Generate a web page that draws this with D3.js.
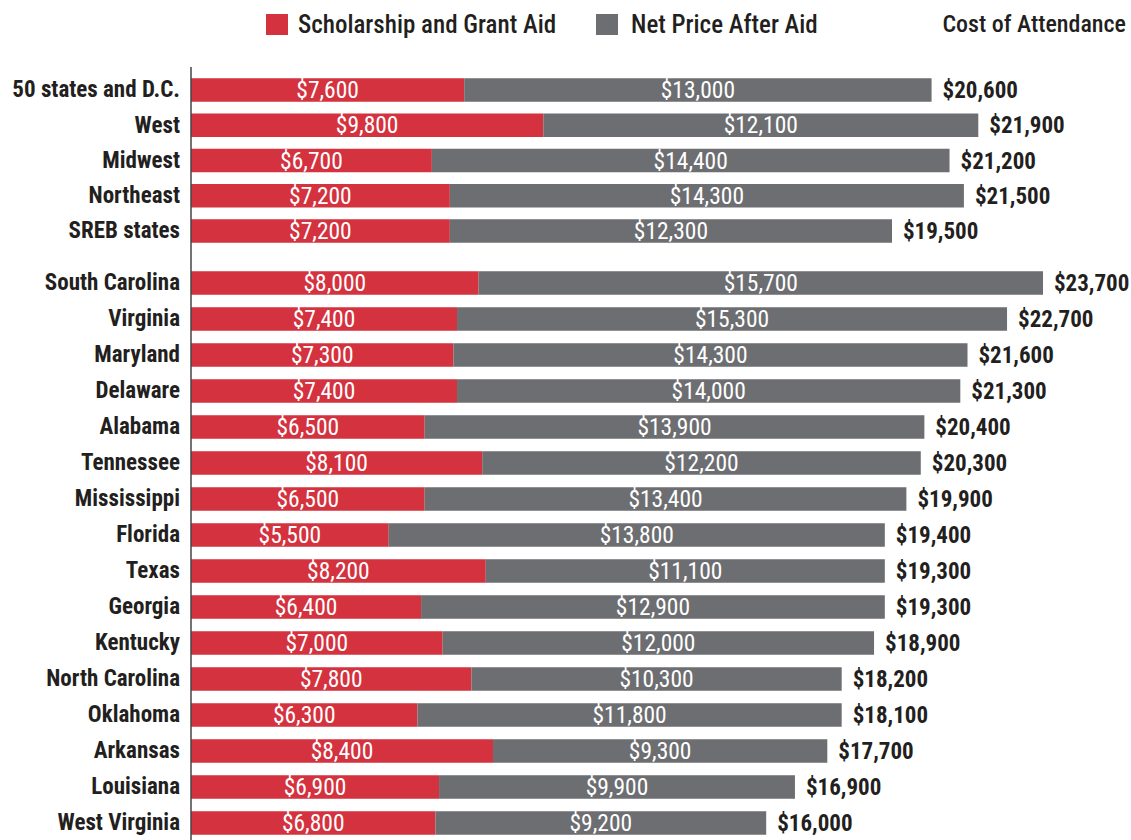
<!DOCTYPE html>
<html>
<head>
<meta charset="utf-8">
<script src="https://cdn.jsdelivr.net/npm/d3@7"></script>
<style>
  body { margin: 0; background: #fff; }
  svg text { font-family: "Liberation Sans Narrow", "Roboto Condensed", "DejaVu Sans Condensed", "Liberation Sans", sans-serif; }
</style>
</head>
<body>
<svg id="chart" width="1131" height="840"></svg>
<script>
// regions block on top, states below
var regions = ["50 states and D.C.", "West", "Midwest", "Northeast", "SREB states"];
var regionAid = [7600, 9800, 6700, 7200, 7200];
var regionNet = [13000, 12100, 14400, 14300, 12300];
var regionCost = [20600, 21900, 21200, 21500, 19500];

var states = ["South Carolina", "Virginia", "Maryland", "Delaware", "Alabama", "Tennessee",
  "Mississippi", "Florida", "Texas", "Georgia", "Kentucky", "North Carolina", "Oklahoma",
  "Arkansas", "Louisiana", "West Virginia"];
var stateAid = [8000, 7400, 7300, 7400, 6500, 8100, 6500, 5500, 8200, 6400, 7000, 7800, 6300, 8400, 6900, 6800];
var stateNet = [15700, 15300, 14300, 14000, 13900, 12200, 13400, 13800, 11100, 12900, 12000, 10300, 11800, 9300, 9900, 9200];
var stateCost = [23700, 22700, 21600, 21300, 20400, 20300, 19900, 19400, 19300, 19300, 18900, 18200, 18100, 17700, 16900, 16000];

var legendLabels = ["Scholarship and Grant Aid", "Net Price After Aid", "Cost of Attendance"];

var red = "#d3323e", gray = "#6d6e71", ink = "#231f20";

var svg = d3.select("#chart");
var fmt = function(v) { return "$" + d3.format(",")(v); };

var x = d3.scaleLinear().domain([0, 23700]).range([191, 1043]);

var yRegion = d3.scalePoint().domain(regions).range([90, 231]);
var yState = d3.scalePoint().domain(states).range([283, 823]);
var barH = 23.5;

function rows(names, aid, net, cost, y) {
  return names.map(function(n, i) {
    return { name: n, aid: aid[i], net: net[i], cost: cost[i], y: y(n) };
  });
}
var data = rows(regions, regionAid, regionNet, regionCost, yRegion)
  .concat(rows(states, stateAid, stateNet, stateCost, yState));

// category labels via axes, no ticks or domain line
[yRegion, yState].forEach(function(sc) {
  var g = svg.append("g")
    .attr("transform", "translate(180,0)")
    .call(d3.axisLeft(sc).tickSize(0).tickPadding(0));
  g.select(".domain").remove();
  g.selectAll("text")
    .attr("fill", ink)
    .style("font-size", "23px")
    .style("font-weight", "bold")
    .attr("dy", "0.3em");
});

var row = svg.selectAll(".row")
  .data(data)
  .enter().append("g")
  .attr("class", "row");

row.append("rect")
  .attr("x", x(0))
  .attr("y", function(d) { return d.y - barH / 2; })
  .attr("width", function(d) { return x(d.aid) - x(0); })
  .attr("height", barH)
  .attr("fill", red);

row.append("rect")
  .attr("x", function(d) { return x(d.aid); })
  .attr("y", function(d) { return d.y - barH / 2; })
  .attr("width", function(d) { return x(d.aid + d.net) - x(d.aid); })
  .attr("height", barH)
  .attr("fill", gray);

row.append("text")
  .attr("x", function(d) { return (x(0) + x(d.aid)) / 2; })
  .attr("y", function(d) { return d.y; })
  .attr("dy", "0.35em")
  .attr("text-anchor", "middle")
  .attr("fill", "#fff")
  .style("font-size", "23.5px")
  .text(function(d) { return fmt(d.aid); });

row.append("text")
  .attr("x", function(d) { return (x(d.aid) + x(d.aid + d.net)) / 2; })
  .attr("y", function(d) { return d.y; })
  .attr("dy", "0.35em")
  .attr("text-anchor", "middle")
  .attr("fill", "#fff")
  .style("font-size", "23.5px")
  .text(function(d) { return fmt(d.net); });

row.append("text")
  .attr("x", function(d) { return x(d.aid + d.net) + 11; })
  .attr("y", function(d) { return d.y; })
  .attr("dy", "0.35em")
  .attr("fill", ink)
  .style("font-size", "23px")
  .style("font-weight", "bold")
  .text(function(d) { return fmt(d.cost); });

// vertical axis line
svg.append("line")
  .attr("x1", 191).attr("x2", 191)
  .attr("y1", 67).attr("y2", 840)
  .attr("stroke", "#444")
  .attr("stroke-width", 1.5);

// legend
var leg = svg.append("g");
leg.append("rect").attr("x", 266).attr("y", 14).attr("width", 22).attr("height", 21).attr("fill", red);
leg.append("text").attr("x", 298).attr("y", 24).attr("dy", "0.35em")
  .attr("fill", ink).style("font-size", "25px").style("font-weight", 500).text(legendLabels[0]);
leg.append("rect").attr("x", 596).attr("y", 14).attr("width", 22).attr("height", 21).attr("fill", gray);
leg.append("text").attr("x", 631).attr("y", 24).attr("dy", "0.35em")
  .attr("fill", ink).style("font-size", "25px").style("font-weight", 500).text(legendLabels[1]);
leg.append("text").attr("x", 1126).attr("y", 24).attr("dy", "0.35em")
  .attr("text-anchor", "end")
  .attr("fill", ink).style("font-size", "24px").style("font-weight", 500).text(legendLabels[2]);
</script>
</body>
</html>
